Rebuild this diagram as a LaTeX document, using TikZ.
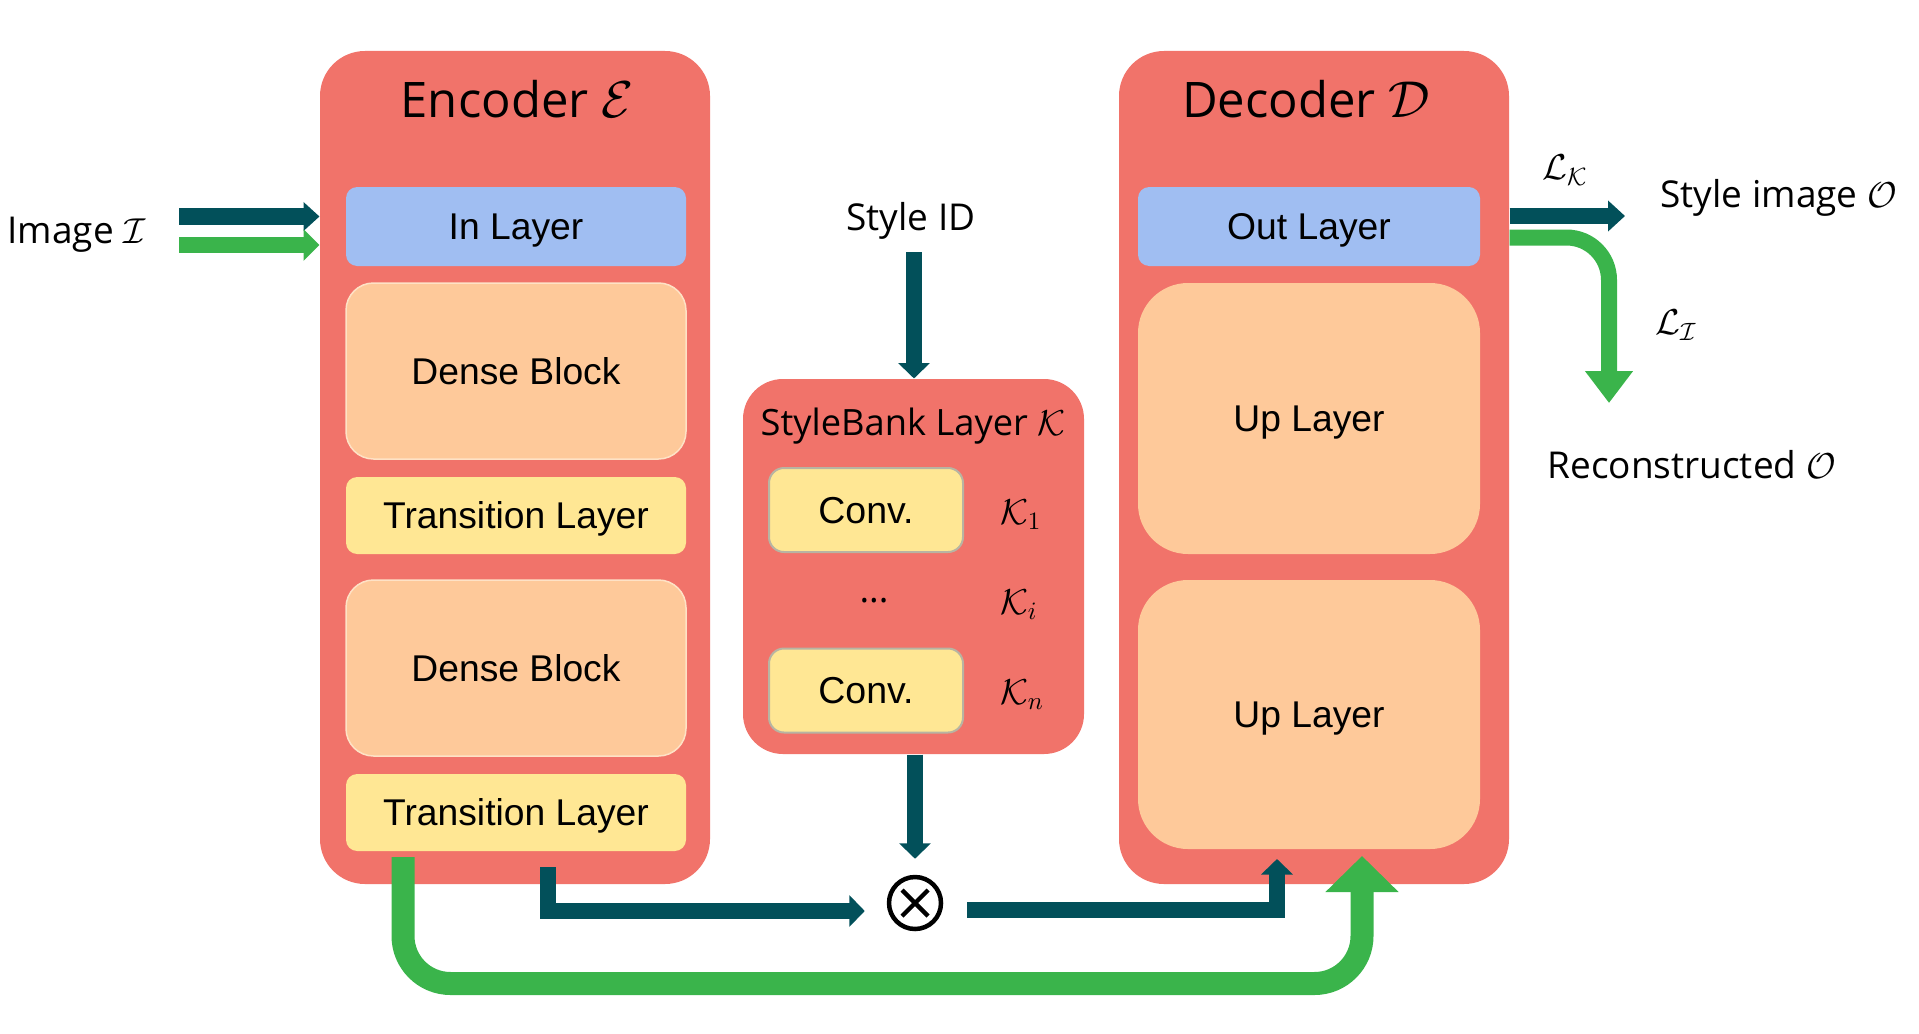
\documentclass[tikz,border=0pt]{standalone}
\usepackage{fontspec}
\setmainfont{Open Sans}
\newfontfamily\arialf{Liberation Sans}
\usetikzlibrary{arrows.meta}
\definecolor{encred}{HTML}{F1736A}
\definecolor{inblue}{HTML}{A0BEF2}
\definecolor{peach}{HTML}{FEC99A}
\definecolor{peachline}{HTML}{FEE2C6}
\definecolor{lyellow}{HTML}{FFE794}
\definecolor{convline}{HTML}{B8B4A2}
\definecolor{tealc}{HTML}{02505A}
\definecolor{greenc}{HTML}{3AB44B}
\newcommand{\titlefnt}{\fontsize{19.6pt}{23pt}\selectfont}
\newcommand{\lblfnt}{\fontsize{14.8pt}{18pt}\selectfont}
\newcommand{\sbfnt}{\fontsize{14.5pt}{17pt}\selectfont}
\begin{document}
\begin{tikzpicture}[x=0.4pt,y=-0.4pt,
  container/.style={fill=encred, rounded corners=18pt, inner sep=0pt,
    minimum width=156pt, minimum height=333.2pt},
  blk/.style={rounded corners=#1, inner sep=0pt, text height=10.65pt, text depth=0pt,
    font=\arialf\fontsize{14.9pt}{17pt}\selectfont},
  inbox/.style={blk=4.5pt, fill=inblue, minimum height=31.6pt},
  trbox/.style={blk=4.5pt, fill=lyellow, minimum width=136pt, minimum height=30.8pt},
  dbbox/.style={blk=11pt, fill=peach, draw=peachline, line width=0.6pt,
    minimum width=136pt, minimum height=70.4pt},
  upbox/.style={blk=20pt, fill=peach, minimum width=136.8pt},
  convbox/.style={blk=6pt, fill=lyellow, draw=convline, line width=0.8pt,
    minimum width=77.6pt, minimum height=33.6pt, text height=10.7pt,
    font=\arialf\fontsize{15pt}{17pt}\selectfont},
  lbl/.style={inner sep=0pt, font=\lblfnt},
  tealarrow/.style={draw=tealc, line width=6.4pt, line join=miter,
    -{Triangle[length=6.2pt,width=12.4pt]}},
  greenin/.style={draw=greenc, line width=6.4pt,
    -{Triangle[length=6.4pt,width=12.4pt]}},
  greenU/.style={draw=greenc, line width=9.2pt, rounded corners=19pt,
    -{Triangle[length=14.4pt,width=28.4pt]}},
  greenout/.style={draw=greenc, line width=6.4pt, rounded corners=17pt,
    -{Triangle[length=12.8pt,width=18.4pt]}}
]
\useasboundingbox (0,0) rectangle (1919,1033);

% containers
\node[container] (enc) at (515,467.5) {};
\node[container] (dec) at (1314,467.5) {};
\node[container, minimum width=136.4pt, minimum height=150pt, rounded corners=16pt] (sb) at (913.5,566.5) {};

% titles
\node[anchor=base, inner sep=0pt, font=\titlefnt] (enct) at (517,117) {Encoder $\mathcal{E}$};
\node[anchor=base, inner sep=0pt, font=\titlefnt] (dect) at (1306,117) {Decoder $\mathcal{D}$};
\node[anchor=base, inner sep=0pt, font=\sbfnt] (sbt) at (913,435) {StyleBank Layer $\mathcal{K}$};

% encoder blocks
\node[inbox, minimum width=136pt] (inl) at (516,226.5) {In Layer};
\node[dbbox] (db1) at (516,371) {Dense Block};
\node[trbox] (tl1) at (516,515.5) {Transition Layer};
\node[dbbox] (db2) at (516,668) {Dense Block};
\node[trbox] (tl2) at (516,812.5) {Transition Layer};

% decoder blocks
\node[inbox, minimum width=136.8pt] (outl) at (1309,226.5) {Out Layer};
\node[upbox, minimum height=108.4pt] (up1) at (1309,418.5) {Up Layer};
\node[upbox, minimum height=107.6pt] (up2) at (1309,714.5) {Up Layer};

% stylebank content
\node[convbox] (c1) at (866,510) {Conv.};
\node[convbox] (c2) at (866,690.5) {Conv.};
\node[inner sep=0pt, font=\sbfnt] (dots) at (874,601) {...};
\node[anchor=base west, lbl] (k1) at (1000,524) {$\mathcal{K}_1$};
\node[anchor=base west, lbl] (ki) at (1000,614) {$\mathcal{K}_i$};
\node[anchor=base west, lbl] (kn) at (1000,704) {$\mathcal{K}_n$};

% outside labels
\node[anchor=base west, lbl] (img) at (7,243) {Image $\mathcal{I}$};
\node[anchor=base, lbl] (sid) at (911,230) {Style ID};
\node[anchor=base west, lbl] (simg) at (1660,207) {Style image $\mathcal{O}$};
\node[anchor=base west, lbl] (rec) at (1547,478) {Reconstructed $\mathcal{O}$};
\node[lbl] (lk) at (1565,170) {$\mathcal{L}_{\mathcal{K}}$};
\node[lbl] (li) at (1676,325) {$\mathcal{L}_{\mathcal{I}}$};

% product node
\node[circle, draw=black, line width=1.8pt, minimum size=20.8pt, inner sep=0pt] (ox) at (915,903) {};
\draw[line width=1.7pt] ([shift={(-13,-13)}]ox.center) -- ([shift={(13,13)}]ox.center);
\draw[line width=1.7pt] ([shift={(-13,13)}]ox.center) -- ([shift={(13,-13)}]ox.center);

% input arrows
\coordinate (ia1) at (179,216.5);
\coordinate (ia2) at (179,245);
\draw[tealarrow, -{Triangle[length=6.4pt,width=11.2pt]}, line width=6.8pt] (ia1) -- (ia1 -| enc.west);
\draw[greenin, -{Triangle[length=6.4pt,width=12.4pt]}] (ia2) -- (ia2 -| enc.west);

% style id arrow
\coordinate (sida) at (914,252);
\draw[tealarrow] (sida) -- (sida |- sb.north);

% stylebank to product
\draw[tealarrow, shorten >=6.4pt] (sb.south -| ox.north) -- (ox.north);

% encoder to product
\coordinate (ta) at (548,867);
\draw[tealarrow, shorten >=8.8pt] (ta) |- ([shift={(0,8)}]ox.west);

% product to decoder
\coordinate (dt) at (1277,859);
\draw[tealarrow] ([shift={(24,7)}]ox.east) -| (dt);

% skip connection
\coordinate (ga) at (403,857);
\coordinate (gb) at (1362,856);
\coordinate (gy) at (0,983.5);
\draw[greenU] (ga) -- (ga |- gy) -- (gb |- gy) -- (gb);

% outputs
\coordinate (oa) at (1625,216);
\draw[tealarrow, -{Triangle[length=6.8pt,width=12pt]}] (oa -| dec.east) -- (oa);
\coordinate (ob) at (1609,403);
\coordinate (oy) at (0,237.5);
\draw[greenout] (dec.east |- oy) -| (ob);
\end{tikzpicture}
\end{document}
